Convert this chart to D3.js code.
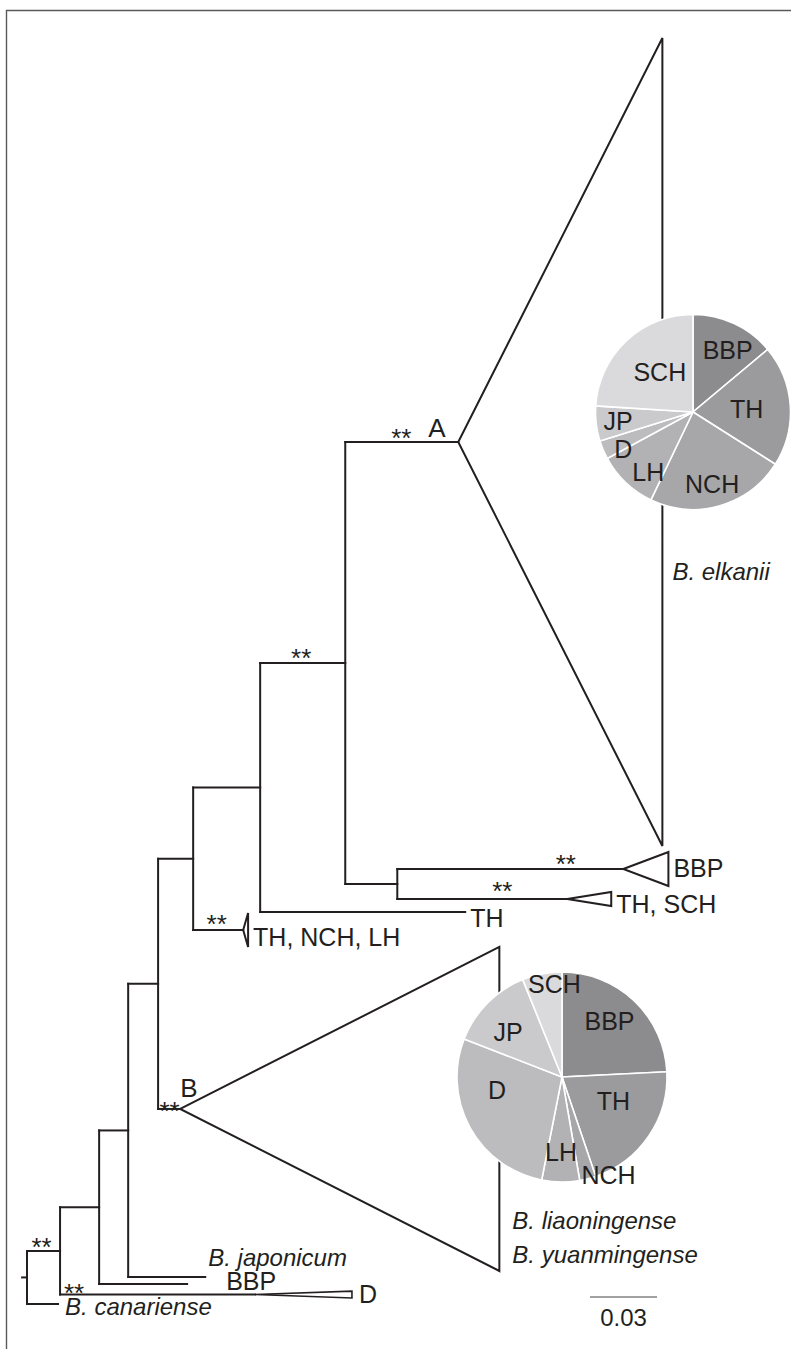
<!DOCTYPE html>
<html><head><meta charset="utf-8">
<script src="https://cdn.jsdelivr.net/npm/d3@7"></script>
<style>body{margin:0;background:#fff} svg{display:block}</style>
</head><body>
<svg id="c" width="791" height="1349"></svg>
<script>
// ---------- DATA ----------
// tree topology (MEGA-style phylogeny with collapsed clades)
const nodeNames   = ["root","n1","n2","n3","n4","n5","n6","n7","n8",
                     "elkanii","bbpClade","thsch","th","thnchlh","liaoning","japonicum","bbp","dClade","canariense"];
const nodeParents = [null,"root","n1","n2","n3","n4","n5","n6","n7",
                     "n7","n8","n8","n6","n5","n4","n3","n2","n1","root"];
// branch lengths (substitutions / site)
const branchLengths = [0,0.0148,0.0175,0.0130,0.0134,0.0157,0.0300,0.0381,0.0233,
                       0.0506,0.1012,0.0761,0.0918,0.0224,0.0099,0.0345,0.0394,0.0873,0.0139];
// leaf row positions (0 = top, 100 = bottom); internal nodes are midpoints
const leafRows    = [null,null,null,null,null,null,null,null,null,
                     31.61,65.02,67.37,68.39,69.80,83.80,96.95,97.50,98.32,99.06];
// collapsed clades: depth (branch units) and half height (row units)
const cladeDepth  = [0,0,0,0,0,0,0,0,0, 0.0914,0.0202,0.0197,0,0.0022,0.1429,0,0,0.0434,0];
const cladeHalf   = [0,0,0,0,0,0,0,0,0, 31.61,1.33,0.55,0,1.33,12.68,0,0,0.27,0];
// labels
const tipTexts    = ["","","","","","","","","",
                     ["B. elkanii"],["BBP"],["TH, SCH"],["TH"],["TH, NCH, LH"],
                     ["B. liaoningense","B. yuanmingense"],["B. japonicum"],["BBP"],["D"],["B. canariense"]];
const tipItalic   = [0,0,0,0,0,0,0,0,0, 1,0,0,0,0,1,1,0,0,1];
const cladeLetters= {elkanii:"A", liaoning:"B"};
const supportText = ["","**","","","","","","**","","**","**","**","","**","**","","","**",""];
// pie charts: isolate composition by region
const pieCategories  = ["BBP","TH","NCH","LH","D","JP","SCH"];
const elkaniiShares  = [13.9,20.1,23.1,10.0,3.1,5.8,24.0];
const liaoningShares = [24.2,20.6,2.5,5.8,27.8,13.0,6.1];
const pieColors      = ["#8c8c8e","#9b9b9d","#a7a7a9","#b2b2b4","#bcbcbe","#cacacc","#dadadc"];
const scaleBarValue  = 0.03;

// ---------- LAYOUT / STYLE ----------
const svg = d3.select("#c");
const x = d3.scaleLinear().domain([0,0.3]).range([27,27+670]);
const y = d3.scaleLinear().domain([0,100]).range([38,1316]);
const LINE = "#231f20";
const FONT = "'Liberation Sans', Arial, Helvetica, sans-serif";

// frame
svg.append("path").attr("d","M6.5,1349 V10.5 H791").attr("fill","none")
   .attr("stroke","#5a5a5a").attr("stroke-width",1.4);

// build nodes
const N = nodeNames.map((n,i)=>({name:n,i,parent:nodeParents[i],bl:branchLengths[i],children:[]}));
const byName = {}; N.forEach(d=>byName[d.name]=d);
N.forEach(d=>{ if(d.parent) byName[d.parent].children.push(d); });
function dist(d){ return d.parent ? dist(byName[d.parent]) + d.bl : 0; }
N.forEach(d=>d.dist = dist(d));
function row(d){
  if(d.children.length===0) return d.row = leafRows[d.i];
  const r = d.children.map(row);
  d.rmin = d3.min(r); d.rmax = d3.max(r);
  return d.row = (d.rmin+d.rmax)/2;
}
row(byName.root);

const g = svg.append("g").attr("stroke",LINE).attr("stroke-width",2).attr("fill","none")
             .attr("stroke-linecap","square");
// horizontal branches
N.filter(d=>d.parent).forEach(d=>{
  const p = byName[d.parent];
  g.append("line").attr("x1",x(p.dist)).attr("x2",x(d.dist)).attr("y1",y(d.row)).attr("y2",y(d.row));
});
// vertical connectors
N.filter(d=>d.children.length).forEach(d=>{
  g.append("line").attr("x1",x(d.dist)).attr("x2",x(d.dist)).attr("y1",y(d.rmin)).attr("y2",y(d.rmax));
});
// root stub
const R = byName.root;
g.append("line").attr("x1",x(-0.0022)).attr("x2",x(0)).attr("y1",y(R.row)).attr("y2",y(R.row));
// collapsed clade triangles
N.filter(d=>cladeDepth[d.i]>0).forEach(d=>{
  const ax=x(d.dist), ay=y(d.row), tx=x(d.dist+cladeDepth[d.i]);
  const t=y(d.row-cladeHalf[d.i]), b=y(d.row+cladeHalf[d.i]);
  g.append("path").attr("d",`M${ax},${ay}L${tx},${t}L${tx},${b}Z`)
   .attr("stroke-linejoin","miter").attr("stroke-width", d.name==="dClade"?1.6:2);
});

// text helpers
const T = svg.append("g").attr("font-family",FONT).attr("fill","#231f20");
function tipX(d){ return x(d.dist + cladeDepth[d.i]); }
// tip label offsets [dx, dy baseline] per node
const tipOff = {elkanii:[[10,138]], bbpClade:[[5,8]], thsch:[[5,14]], th:[[5,15]], thnchlh:[[5,16]],
                liaoning:[[13,120],[13,154]], japonicum:[[3,-11]], bbp:[[39,6]], dClade:[[7,8.5]], canariense:[[7,11]]};
N.filter(d=>tipTexts[d.i]).forEach(d=>{
  tipTexts[d.i].forEach((t,k)=>{
    const o = tipOff[d.name][k];
    T.append("text").attr("x",tipX(d)+o[0]).attr("y",y(d.row)+o[1])
     .attr("font-size",tipItalic[d.i]?24:25).attr("font-style",tipItalic[d.i]?"italic":"normal")
     .text(t);
  });
});
// support values
const supOff = {n1:[14.5,5.5], n7:[41,4], elkanii:[56,5], bbpClade:[168.5,4.5], thsch:[105,1],
                thnchlh:[23.5,3], liaoning:[11.5,11], dClade:[14,7.5]};
N.filter(d=>supportText[d.i]).forEach(d=>{
  const o = supOff[d.name], p = byName[d.parent];
  T.append("text").attr("x",x(p.dist)+o[0]).attr("y",y(d.row)+o[1]).attr("text-anchor","middle")
   .attr("font-size",26).text(supportText[d.i]);
});
// clade letters
const letOff = {elkanii:[-30,-5], liaoning:[0,-12]};
Object.keys(cladeLetters).forEach(k=>{
  const d=byName[k], o=letOff[k];
  T.append("text").attr("x",x(d.dist)+o[0]).attr("y",y(d.row)+o[1]).attr("font-size",26).text(cladeLetters[k]);
});

// pies
const pieGen = d3.pie().sort(null).value(v=>v);
function drawPie(values, cx, cy, r, labelPos){
  const arc = d3.arc().innerRadius(0).outerRadius(r);
  const pg = svg.append("g").attr("transform",`translate(${cx},${cy})`);
  const arcs = pieGen(values);
  pg.selectAll("path").data(arcs).join("path").attr("d",arc)
    .attr("fill",(d,i)=>pieColors[i]).attr("stroke","#fff").attr("stroke-width",1.6);
  pg.selectAll("text").data(arcs).join("text")
    .attr("x",(d,i)=>r*labelPos[i][1]*Math.sin(labelPos[i][0]*Math.PI/180))
    .attr("y",(d,i)=>-r*labelPos[i][1]*Math.cos(labelPos[i][0]*Math.PI/180))
    .attr("dy","0.36em").attr("text-anchor","middle").attr("font-family",FONT)
    .attr("font-size",25).attr("fill","#231f20").text((d,i)=>pieCategories[i]);
}
// label placement [angle deg clockwise from north, radius fraction]
drawPie(elkaniiShares, 693, 412, 97.5,
  [[29.1,0.731],[86.8,0.552],[165.2,0.768],[216.6,0.770],[242.3,0.809],[263.1,0.773],[320.5,0.535]]);
drawPie(liaoningShares, 562, 1077, 105,
  [[40.3,0.699],[115.4,0.543],[154.7,1.037],[180.8,0.714],[258.7,0.631],[310.1,0.672],[355.4,0.893]]);

// scale bar
const sbx = 590, sby = 1297;
svg.append("line").attr("x1",sbx).attr("x2",sbx + x(scaleBarValue)-x(0)).attr("y1",sby).attr("y2",sby)
   .attr("stroke","#444").attr("stroke-width",1.2);
T.append("text").attr("x",sbx + (x(scaleBarValue)-x(0))/2).attr("y",sby+29).attr("text-anchor","middle")
   .attr("font-size",24).text(scaleBarValue.toFixed(2));
</script>
</body></html>
